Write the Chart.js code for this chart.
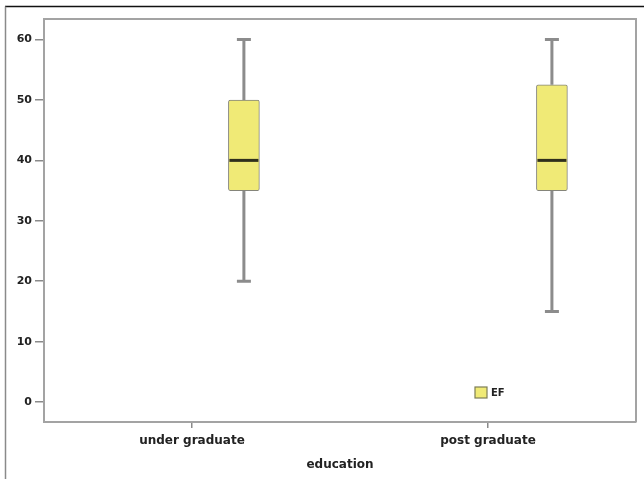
<!DOCTYPE html>
<html>
<head>
<meta charset="utf-8">
<script src="https://cdn.jsdelivr.net/npm/chart.js@4.4.1/dist/chart.umd.min.js"></script>
<style>
  html, body { margin: 0; padding: 0; background: #ffffff; }
  #wrap { width: 644px; height: 479px; position: relative; }
</style>
</head>
<body>
<div id="wrap"><canvas id="c" width="644" height="479"></canvas></div>
<script>
// Box plot of EF by education level
const categories = ['under graduate', 'post graduate'];
const seriesName = 'EF';
const whiskerLow = [20, 15];
const quartile1 = [35, 35];
const medians = [40, 40];
const quartile3 = [50, 52.5];
const whiskerHigh = [60, 60];
const yTicks = [0, 10, 20, 30, 40, 50, 60];

const BOX_FILL = '#f0ea76';
const BOX_EDGE = '#85857a';
const WHISKER = '#8c8c8c';
const MEDIAN = '#2f2f1c';
const FRAME = '#a3a3a3';
const TEXT = '#222222';
const FONT = "'DejaVu Sans', 'Liberation Sans', sans-serif";

// whiskers behind the boxes, medians on top
const boxWhiskers = {
  id: 'boxWhiskers',
  beforeDatasetsDraw(chart) {
    const meta = chart.getDatasetMeta(0);
    const y = chart.scales.y;
    const ctx = chart.ctx;
    ctx.save();
    ctx.strokeStyle = WHISKER;
    ctx.lineWidth = 3;
    meta.data.forEach((bar, i) => {
      const hi = y.getPixelForValue(whiskerHigh[i]);
      const lo = y.getPixelForValue(whiskerLow[i]);
      const q1 = y.getPixelForValue(quartile1[i]);
      const q3 = y.getPixelForValue(quartile3[i]);
      ctx.beginPath();
      ctx.moveTo(bar.x, q3); ctx.lineTo(bar.x, hi);
      ctx.moveTo(bar.x, q1); ctx.lineTo(bar.x, lo);
      ctx.moveTo(bar.x - 7, hi); ctx.lineTo(bar.x + 7, hi);
      ctx.moveTo(bar.x - 7, lo); ctx.lineTo(bar.x + 7, lo);
      ctx.stroke();
    });
    ctx.restore();
  },
  afterDatasetsDraw(chart) {
    const meta = chart.getDatasetMeta(0);
    const y = chart.scales.y;
    const ctx = chart.ctx;
    ctx.save();
    ctx.strokeStyle = MEDIAN;
    ctx.lineWidth = 3;
    meta.data.forEach((bar, i) => {
      const m = y.getPixelForValue(medians[i]);
      ctx.beginPath();
      ctx.moveTo(bar.x - bar.width / 2 + 1, m);
      ctx.lineTo(bar.x + bar.width / 2 - 1, m);
      ctx.stroke();
    });
    ctx.restore();
  }
};

// page border plus the top and right edges of the plot frame
const frame = {
  id: 'frame',
  beforeDraw(chart) {
    const ctx = chart.ctx;
    ctx.save();
    ctx.fillStyle = '#ffffff';
    ctx.fillRect(0, 0, chart.width, chart.height);
    ctx.lineWidth = 1.5;
    ctx.strokeStyle = '#111111';
    ctx.beginPath(); ctx.moveTo(5, 6.5); ctx.lineTo(chart.width, 6.5); ctx.stroke();
    ctx.strokeStyle = '#8a8a8a';
    ctx.beginPath(); ctx.moveTo(5.5, 6.5); ctx.lineTo(5.5, chart.height); ctx.stroke();
    ctx.restore();
  },
  afterDraw(chart) {
    const a = chart.chartArea;
    const ctx = chart.ctx;
    ctx.save();
    ctx.strokeStyle = FRAME;
    ctx.lineWidth = 2;
    ctx.beginPath();
    ctx.moveTo(a.left, a.top);
    ctx.lineTo(a.right, a.top);
    ctx.lineTo(a.right, a.bottom);
    ctx.stroke();
    ctx.restore();
  }
};

// legend key placed inside the plot, lower right
const insideLegend = {
  id: 'insideLegend',
  afterDraw(chart) {
    const a = chart.chartArea;
    const ds = chart.data.datasets[0];
    const ctx = chart.ctx;
    const x = a.left + 431, yTop = a.bottom - 35;
    ctx.save();
    ctx.fillStyle = ds.backgroundColor;
    ctx.strokeStyle = '#7d7d55';
    ctx.lineWidth = 1.2;
    ctx.fillRect(x, yTop, 12, 11);
    ctx.strokeRect(x, yTop, 12, 11);
    ctx.fillStyle = TEXT;
    ctx.font = 'bold 10px ' + FONT;
    ctx.textBaseline = 'middle';
    ctx.fillText(ds.label, x + 16, yTop + 6);
    ctx.restore();
  }
};

new Chart(document.getElementById('c'), {
  type: 'bar',
  data: {
    labels: categories,
    datasets: [{
      label: seriesName,
      xAxisID: 'xb',
      yAxisID: 'y',
      data: categories.map((c, i) => ({ x: i, y: [quartile1[i], quartile3[i]] })),
      backgroundColor: BOX_FILL,
      borderColor: BOX_EDGE,
      borderWidth: 1,
      borderSkipped: false,
      borderRadius: 2,
      barThickness: 31
    }]
  },
  options: {
    responsive: false,
    animation: false,
    devicePixelRatio: 1,
    layout: { padding: { top: 19, right: 8, left: 0, bottom: 0 } },
    plugins: { legend: { display: false }, tooltip: { enabled: false } },
    scales: {
      x: {
        type: 'category',
        position: 'bottom',
        offset: true,
        grid: { offset: false, drawOnChartArea: false, drawTicks: true, tickLength: 6, color: '#8a8a8a', lineWidth: 1.5 },
        border: { display: true, color: FRAME, width: 2 },
        ticks: { color: TEXT, padding: 6, maxRotation: 0, font: { family: FONT, size: 12, weight: 'bold' } },
        title: { display: true, text: 'education', color: TEXT, padding: { top: 0, bottom: 7 },
                 font: { family: FONT, size: 12, weight: 'bold' } },
        afterFit(s) { s.height = 57; }
      },
      xb: { type: 'linear', display: false, offset: false, grid: { offset: false }, min: -0.649, max: 1.273 },
      y: {
        type: 'linear',
        min: -3.3,
        max: 63.4,
        afterBuildTicks(s) { s.ticks = yTicks.map(v => ({ value: v })); },
        grid: { drawOnChartArea: false, drawTicks: true, tickLength: 9, color: '#8a8a8a', lineWidth: 1.5 },
        border: { display: true, color: FRAME, width: 2 },
        ticks: { color: TEXT, padding: 3, font: { family: FONT, size: 11, weight: 'bold' } },
        afterFit(s) { s.width = 44; }
      }
    }
  },
  plugins: [frame, boxWhiskers, insideLegend]
});
</script>
</body>
</html>
